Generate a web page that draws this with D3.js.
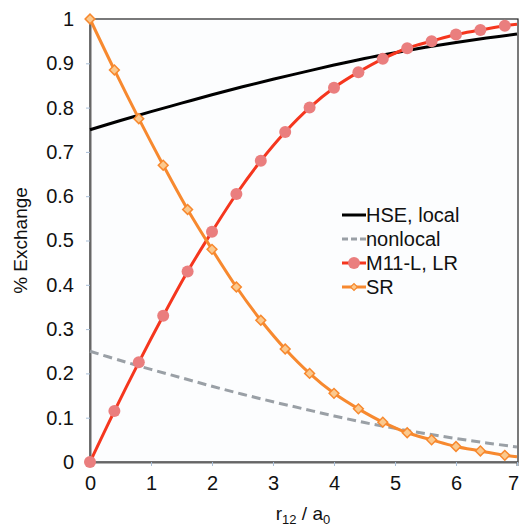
<!DOCTYPE html>
<html>
<head>
<meta charset="utf-8">
<script src="https://cdn.jsdelivr.net/npm/d3@7"></script>
<style>
  body { margin: 0; background: #fff; }
  text { font-family: "Liberation Sans", Arial, sans-serif; fill: #111; }
</style>
</head>
<body>
<div id="chart"></div>
<script>
// values
var markerR = [0, 0.4, 0.8, 1.2, 1.6, 2.0, 2.4, 2.8, 3.2, 3.6, 4.0, 4.4, 4.8, 5.2, 5.6, 6.0, 6.4, 6.8];
var srVals = [1, 0.885, 0.775, 0.67, 0.57, 0.48, 0.395, 0.32, 0.255, 0.2, 0.155, 0.12, 0.09, 0.066, 0.05, 0.035, 0.025, 0.015];
var lrVals = [0, 0.115, 0.225, 0.33, 0.43, 0.52, 0.605, 0.68, 0.745, 0.8, 0.845, 0.88, 0.91, 0.934, 0.95, 0.965, 0.975, 0.985];
var hseR = [0, 0.5, 1, 1.5, 2, 2.5, 3, 3.5, 4, 4.5, 5, 5.5, 6, 6.5, 7];
var hseLocal = [0.75, 0.771, 0.791, 0.81, 0.829, 0.847, 0.864, 0.88, 0.896, 0.911, 0.924, 0.936, 0.947, 0.957, 0.966];
var hseNonlocal = [0.25, 0.229, 0.209, 0.19, 0.171, 0.153, 0.136, 0.12, 0.104, 0.089, 0.076, 0.064, 0.053, 0.043, 0.034];
var xTicks = [0, 1, 2, 3, 4, 5, 6, 7];
var yTicks = [0, 0.1, 0.2, 0.3, 0.4, 0.5, 0.6, 0.7, 0.8, 0.9, 1];
var legendLabels = ["HSE, local", "nonlocal", "M11-L, LR", "SR"];

var svgWidth = 521;
var svgHeight = 527;
var margin = { top: 19, right: 3, bottom: 65, left: 90 };
var width = svgWidth - margin.left - margin.right;
var height = svgHeight - margin.top - margin.bottom;

var svg = d3.select("#chart")
    .append("svg")
    .attr("width", svgWidth)
    .attr("height", svgHeight);

var chartGroup = svg.append("g")
    .attr("transform", `translate(${margin.left},${margin.top})`);

var xScale = d3.scaleLinear().domain([0, 7]).range([0, 427]);
var yScale = d3.scaleLinear().domain([0, 1]).range([height, 0]);

// plot background + frame
chartGroup.append("rect")
    .attr("width", width)
    .attr("height", height)
    .attr("fill", "#fcfdfe")
    .attr("stroke", "#222")
    .attr("stroke-width", 1.2);

// axes
var yAxis = d3.axisLeft(yScale).tickValues(yTicks).tickSize(4).tickPadding(12)
    .tickFormat(d => d === 0 || d === 1 ? d : d3.format(".1f")(d));
var xAxis = d3.axisBottom(xScale).tickValues(xTicks).tickSize(4).tickPadding(10)
    .tickFormat(d3.format("d"));

var gy = chartGroup.append("g").call(yAxis);
var gx = chartGroup.append("g").attr("transform", `translate(0,${height})`).call(xAxis);
[gx, gy].forEach(function(g) {
    g.select(".domain").attr("stroke", "#666").attr("stroke-width", 2);
    g.selectAll(".tick line").attr("stroke", "#a9bfd8");
    g.selectAll(".tick text").style("font-size", "20px").attr("fill", "#111");
});
// last x label sits at the window edge; nudge it in a little
gx.selectAll(".tick text").filter(d => d === 7).attr("dx", -4);

var line = d3.line()
    .x(d => xScale(d[0]))
    .y(d => yScale(d[1]))
    .curve(d3.curveCatmullRom);

var hseLocalPts = hseR.map((r, i) => [r, hseLocal[i]]);
var hseNonlocalPts = hseR.map((r, i) => [r, hseNonlocal[i]]);
var lrPts = markerR.map((r, i) => [r, lrVals[i]]);
var srPts = markerR.map((r, i) => [r, srVals[i]]);

chartGroup.append("path")
    .attr("d", line(hseNonlocalPts))
    .attr("fill", "none")
    .attr("stroke", "#9aa0a6")
    .attr("stroke-width", 3)
    .attr("stroke-dasharray", "9,5");

chartGroup.append("path")
    .attr("d", line(hseLocalPts))
    .attr("fill", "none")
    .attr("stroke", "#000")
    .attr("stroke-width", 3);

// extend LR and SR lines to the right edge
var lrLine = lrPts.concat([[7, 0.988]]);
var srLine = srPts.concat([[7, 0.012]]);

chartGroup.append("path")
    .attr("d", line(lrLine))
    .attr("fill", "none")
    .attr("stroke", "#f5361e")
    .attr("stroke-width", 3);

chartGroup.append("path")
    .attr("d", line(srLine))
    .attr("fill", "none")
    .attr("stroke", "#f7892f")
    .attr("stroke-width", 3);

chartGroup.selectAll(".lrDot")
    .data(lrPts)
    .enter()
    .append("circle")
    .attr("cx", d => xScale(d[0]))
    .attr("cy", d => yScale(d[1]))
    .attr("r", 6)
    .attr("fill", "#ea7e7e");

var diamond = d3.symbol().type(d3.symbolSquare).size(48);
chartGroup.selectAll(".srDot")
    .data(srPts)
    .enter()
    .append("path")
    .attr("d", diamond)
    .attr("transform", d => `translate(${xScale(d[0])},${yScale(d[1])}) rotate(45)`)
    .attr("fill", "#fbc98e")
    .attr("stroke", "#f7892f")
    .attr("stroke-width", 1.5);

// legend
var legend = chartGroup.append("g").attr("transform", "translate(252,196)");
legendLabels.forEach(function(lab, i) {
    var g = legend.append("g").attr("transform", `translate(0,${i * 24})`);
    var ln = g.append("line").attr("x1", 0).attr("x2", 24).attr("y1", 0).attr("y2", 0)
        .attr("stroke-width", 3);
    if (i === 0) ln.attr("stroke", "#000");
    if (i === 1) ln.attr("stroke", "#9aa0a6").attr("stroke-dasharray", "6,3");
    if (i === 2) {
        ln.attr("stroke", "#f5361e");
        g.append("circle").attr("cx", 12).attr("r", 6).attr("fill", "#ea7e7e");
    }
    if (i === 3) {
        ln.attr("stroke", "#f7892f");
        g.append("path").attr("d", d3.symbol().type(d3.symbolSquare).size(24))
            .attr("transform", "translate(12,0) rotate(45)")
            .attr("fill", "#fbc98e").attr("stroke", "#f7892f").attr("stroke-width", 1.2);
    }
    g.append("text").attr("x", 24).attr("y", 7).style("font-size", "20px").text(lab);
});

// axis labels
svg.append("text")
    .attr("transform", `translate(27,${margin.top + height / 2}) rotate(-90)`)
    .style("text-anchor", "middle")
    .style("font-size", "19px")
    .text("% Exchange");

var xl = svg.append("text")
    .attr("x", 303)
    .attr("y", 520)
    .style("text-anchor", "middle")
    .style("font-size", "19px");
xl.append("tspan").text("r");
xl.append("tspan").attr("dy", 4).style("font-size", "13px").text("12");
xl.append("tspan").attr("dy", -4).text(" / a");
xl.append("tspan").attr("dy", 4).style("font-size", "13px").text("0");
</script>
</body>
</html>
